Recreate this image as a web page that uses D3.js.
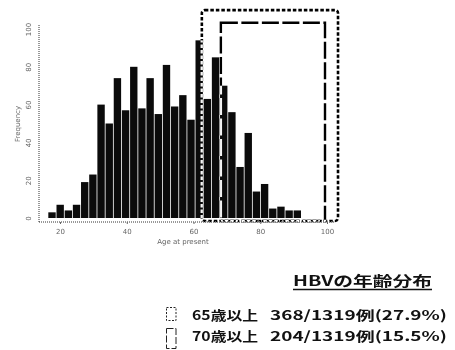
<!DOCTYPE html>
<html>
<head>
<meta charset="utf-8">
<script src="https://cdn.jsdelivr.net/npm/d3@7"></script>
<style>
  body { margin: 0; background: #fff; }
  svg { display: block; }
  .axis text { font-family: "DejaVu Sans", sans-serif; font-size: 7px; fill: #666; }
  .legend text { font-family: "Noto Sans CJK JP", sans-serif; font-weight: 700; fill: #111; }
</style>
</head>
<body>
<div id="chart"></div>
<script>
// histogram bins (left edge, years) and counts
var binStarts = [16.5, 18.95, 21.4, 23.85, 26.3, 28.75, 31.2, 33.65, 36.1, 38.55,
  41.0, 43.45, 45.9, 48.35, 50.8, 53.25, 55.7, 58.15, 60.6, 63.05,
  65.5, 67.95, 70.4, 72.85, 75.3, 77.75, 80.2, 82.65, 85.1, 87.55, 90.0];
var binWidth = 2.45;
var counts = [3, 7, 4, 7, 19, 23, 60, 50, 74, 57,
  80, 58, 74, 55, 81, 59, 65, 52, 94, 63,
  85, 70, 56, 27, 45, 14, 18, 5, 6, 4, 4];

var xTicks = [20, 40, 60, 80, 100];
var yTicks = [0, 20, 40, 60, 80, 100];

// the two hand drawn boxes, in data units (age from/to, count top)
var boxFrom = [62.5, 68.2];
var boxTo = [103.3, 99.4];
var boxTop = [110, 103.3];

var legendTitle = 'HBVの年齢分布';
var legendLabels = ['65歳以上', '70歳以上'];
var legendValues = ['368/1319例(27.9%)', '204/1319例(15.5%)'];

var width = 455, height = 350;

var svg = d3.select('#chart').append('svg')
  .attr('width', width)
  .attr('height', height);

svg.append('rect').attr('width', width).attr('height', height).attr('fill', '#fff');

var x = d3.scaleLinear().domain([20, 100]).range([60, 327]);
var y = d3.scaleLinear().domain([0, 100]).range([218, 29]);

// bars
svg.selectAll('.bar')
  .data(counts)
  .enter().append('rect')
  .attr('class', 'bar')
  .attr('x', function (d, i) { return x(binStarts[i]); })
  .attr('width', function (d, i) { return x(binStarts[i] + binWidth) - x(binStarts[i]) - 0.8; })
  .attr('y', function (d) { return y(d); })
  .attr('height', function (d) { return y(0) - y(d); })
  .attr('fill', '#0b0b0b');

// axis lines (L shape, dotted look)
svg.append('line')
  .attr('x1', 39).attr('x2', 39).attr('y1', 25).attr('y2', 222)
  .attr('stroke', '#333').attr('stroke-dasharray', '1,1');
svg.append('line')
  .attr('x1', 39).attr('x2', 334).attr('y1', 222).attr('y2', 222)
  .attr('stroke', '#333').attr('stroke-dasharray', '1,1');

var xAxis = svg.append('g')
  .attr('class', 'axis')
  .attr('transform', 'translate(0,222)')
  .call(d3.axisBottom(x).tickValues(xTicks).tickSize(2).tickPadding(5));
xAxis.select('.domain').remove();
xAxis.selectAll('line').attr('stroke', '#666');

var yAxis = svg.append('g')
  .attr('class', 'axis')
  .attr('transform', 'translate(39,0)')
  .call(d3.axisLeft(y).tickValues(yTicks).tickSize(0));
yAxis.select('.domain').remove();
yAxis.selectAll('text')
  .attr('transform', 'rotate(-90)')
  .attr('x', 0).attr('y', -8).attr('dy', 0)
  .attr('text-anchor', 'middle');

svg.append('text')
  .attr('x', 183).attr('y', 244)
  .attr('text-anchor', 'middle')
  .style('font-family', '"DejaVu Sans", sans-serif')
  .style('font-size', '7px').style('fill', '#666')
  .text('Age at present');

svg.append('text')
  .attr('transform', 'translate(20,124) rotate(-90)')
  .attr('text-anchor', 'middle')
  .style('font-family', '"DejaVu Sans", sans-serif')
  .style('font-size', '7px').style('fill', '#666')
  .text('Frequency');

// boxes: white stroke with difference blend -> black on white, white on bars
var boxDash = ['3.5,2', '17,3.5'];
var boxStroke = [2.6, 2.4];
svg.selectAll('.box')
  .data(boxFrom)
  .enter().append('rect')
  .attr('class', 'box')
  .attr('x', function (d) { return x(d); })
  .attr('y', function (d, i) { return y(boxTop[i]); })
  .attr('width', function (d, i) { return x(boxTo[i]) - x(d); })
  .attr('height', function (d, i) { return y(-1.6) - y(boxTop[i]); })
  .attr('rx', function (d, i) { return i === 0 ? 3 : 0; })
  .attr('fill', 'none')
  .attr('stroke', '#fff')
  .attr('stroke-width', function (d, i) { return boxStroke[i]; })
  .attr('stroke-dasharray', function (d, i) { return boxDash[i]; })
  .style('mix-blend-mode', 'difference');

// legend
var legend = svg.append('g').attr('class', 'legend');

legend.append('text')
  .attr('x', 293).attr('y', 286)
  .style('font-size', '14px')
  .attr('textLength', 139)
  .attr('lengthAdjust', 'spacingAndGlyphs')
  .text(legendTitle);
legend.append('line')
  .attr('x1', 293).attr('x2', 432).attr('y1', 289.5).attr('y2', 289.5)
  .attr('stroke', '#111').attr('stroke-width', 1.3);

var rowY = [320, 341];
legend.selectAll('.lab')
  .data(legendLabels)
  .enter().append('text')
  .attr('class', 'lab')
  .attr('x', 192)
  .attr('y', function (d, i) { return rowY[i]; })
  .style('font-size', '13px')
  .attr('textLength', 66)
  .attr('lengthAdjust', 'spacingAndGlyphs')
  .text(function (d) { return d; });
legend.selectAll('.val')
  .data(legendValues)
  .enter().append('text')
  .attr('class', 'val')
  .attr('x', 270)
  .attr('y', function (d, i) { return rowY[i]; })
  .style('font-size', '13px')
  .attr('textLength', 177)
  .attr('lengthAdjust', 'spacingAndGlyphs')
  .text(function (d) { return d; });

var iconDash = ['2,1.5', '7,2'];
legend.selectAll('.icon')
  .data(legendLabels)
  .enter().append('rect')
  .attr('class', 'icon')
  .attr('x', 166.5)
  .attr('y', function (d, i) { return rowY[i] - 12.5; })
  .attr('width', 9.5)
  .attr('height', function (d, i) { return i === 0 ? 13 : 20; })
  .attr('fill', 'none')
  .attr('stroke', '#222')
  .attr('stroke-width', 1)
  .attr('stroke-dasharray', function (d, i) { return iconDash[i]; });
</script>
</body>
</html>
